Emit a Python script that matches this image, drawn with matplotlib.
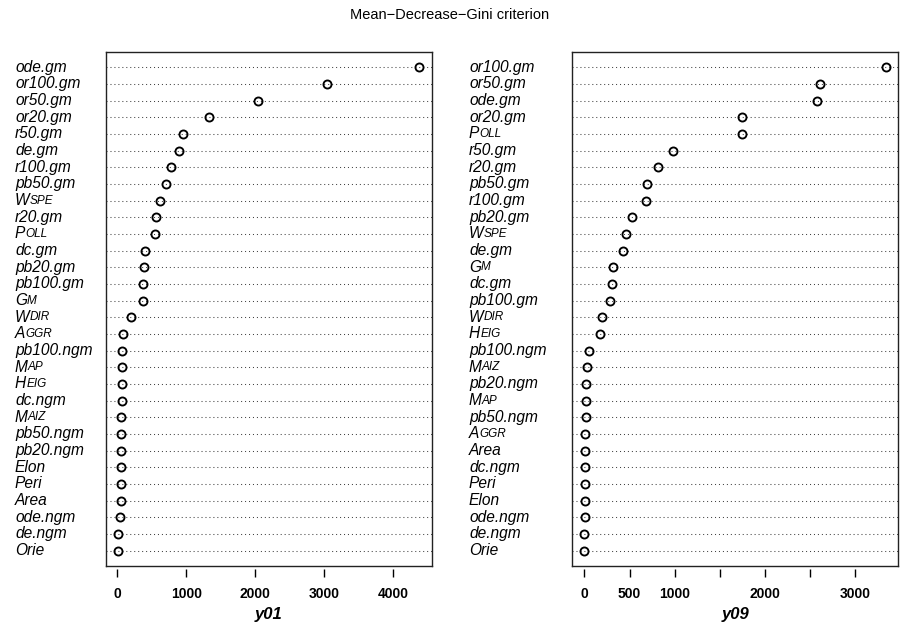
import numpy as np
import matplotlib as mpl
mpl.use('Agg')
import matplotlib.pyplot as plt
from matplotlib.transforms import blended_transform_factory

# top row first, as in the picture
labels_y01 = ["ode.gm", "or100.gm", "or50.gm", "or20.gm", "r50.gm", "de.gm", "r100.gm",
              "pb50.gm", "Wspe", "r20.gm", "Poll", "dc.gm", "pb20.gm", "pb100.gm", "Gm",
              "Wdir", "Aggr", "pb100.ngm", "Map", "Heig", "dc.ngm", "Maiz", "pb50.ngm",
              "pb20.ngm", "Elon", "Peri", "Area", "ode.ngm", "de.ngm", "Orie"]
values_y01 = [4372, 3035, 2035, 1329, 957, 894, 783, 706, 614, 565, 546, 397, 387, 377, 368,
              199, 87, 70, 68, 64, 62, 60, 56, 54, 52, 50, 48, 45, 12, 8]

labels_y09 = ["or100.gm", "or50.gm", "ode.gm", "or20.gm", "Poll", "r50.gm", "r20.gm",
              "pb50.gm", "r100.gm", "pb20.gm", "Wspe", "de.gm", "Gm", "dc.gm", "pb100.gm",
              "Wdir", "Heig", "pb100.ngm", "Maiz", "pb20.ngm", "Map", "pb50.ngm", "Aggr",
              "Area", "dc.ngm", "Peri", "Elon", "ode.ngm", "de.ngm", "Orie"]
values_y09 = [3340, 2613, 2580, 1749, 1745, 985, 812, 691, 683, 524, 458, 432, 321, 310, 285,
              199, 174, 48, 26, 20, 19, 18, 12, 11, 10, 9, 8, 7, 1, 0]

ticks_y01 = [0, 1000, 2000, 3000, 4000]
ticklabels_y01 = ["0", "1000", "2000", "3000", "4000"]
ticks_y09 = [0, 500, 1000, 1500, 2000, 2500, 3000]
ticklabels_y09 = ["0", "500", "1000", "", "2000", "", "3000"]

SMALLCAPS = ["Wspe", "Poll", "Gm", "Wdir", "Aggr", "Map", "Heig", "Maiz"]

plt.rcParams['font.family'] = ['Liberation Sans', 'DejaVu Sans']

fig = plt.figure(figsize=(9, 6.27), dpi=100)

LABEL_FS = 11.2
SMALL_FS = 8.5


def put_label(ax, xfig, y, lab):
    tr = blended_transform_factory(fig.transFigure, ax.transData)
    if lab in SMALLCAPS:
        t = ax.text(xfig, y, lab[0], transform=tr, ha='left', va='center',
                    style='italic', fontsize=LABEL_FS, clip_on=False)
        ax.annotate(lab[1:].upper(), xy=(1, 0.1), xycoords=t, ha='left', va='bottom',
                    style='italic', fontsize=SMALL_FS, annotation_clip=False)
    else:
        ax.text(xfig, y, lab, transform=tr, ha='left', va='center',
                style='italic', fontsize=LABEL_FS, clip_on=False)


def dot_panel(rect, labels, values, xlim, ticks, ticklabels, xlab, labx):
    ax = fig.add_axes(rect)
    n = len(labels)
    ypos = np.arange(n, 0, -1)
    for y in ypos:
        ax.axhline(y, color='#444444', lw=0.75, linestyle=(0, (1, 2.8)), zorder=1)
    ax.plot(values, ypos, 'o', mfc='none', mec='black', ms=5.8, mew=1.35, zorder=3)
    ax.set_xlim(*xlim)
    ax.set_ylim(0.08, n + 0.92)
    ax.set_yticks([])
    ax.set_xticks([])
    for s in ax.spines.values():
        s.set_linewidth(1.0)
        s.set_color('#222222')
    for y, lab in zip(ypos, labels):
        put_label(ax, labx, y, lab)

    # detached R-style axis
    sec = ax.secondary_xaxis(-0.006)
    sec.spines['bottom'].set_visible(False)
    sec.set_xticks(ticks)
    sec.set_xticklabels(ticklabels, fontweight='bold', fontsize=10)
    sec.tick_params(axis='x', direction='out', length=5.8, width=1.0, pad=7)

    x0, _, w, _ = rect
    fig.text(x0 + w / 2, 0.0207, xlab, ha='center', va='center',
             fontsize=12, fontweight='bold', style='italic')
    return ax


dot_panel([0.1178, 0.0973, 0.3619, 0.8198], labels_y01, values_y01,
          (-164, 4555), ticks_y01, ticklabels_y01, "y01", 15 / 900)
dot_panel([0.6359, 0.0973, 0.3619, 0.8198], labels_y09, values_y09,
          (-134, 3474), ticks_y09, ticklabels_y09, "y09", 469 / 900)

fig.text(0.5, 1 - 15 / 627, "Mean\u2212Decrease\u2212Gini criterion",
         ha='center', va='center', fontsize=10.5)

fig.savefig('out.png', dpi=100)
